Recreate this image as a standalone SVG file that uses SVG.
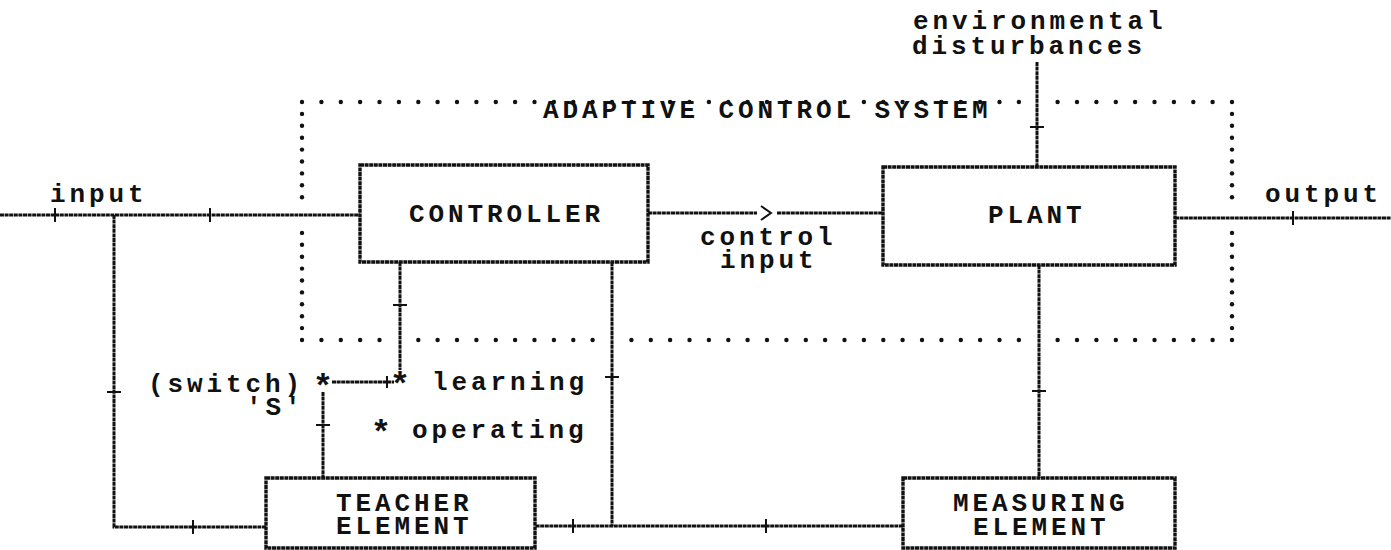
<svg xmlns="http://www.w3.org/2000/svg" width="1391" height="550" viewBox="0 0 1391 550">
  <style>
    text { font-family: "Liberation Mono", "Courier New", monospace; font-size: 26px; font-weight: bold; letter-spacing: 3.9px; fill: #111; }
    .star { letter-spacing: 0; text-anchor: middle; font-size: 34px; }
    .box { fill: #fff; stroke: #111; stroke-width: 3.4; stroke-dasharray: 4 0.6; }
    .wire { fill: none; stroke: #111; stroke-width: 3; stroke-dasharray: 4 0.6; }
    .tick { fill: none; stroke: #111; stroke-width: 2; }
    .dot { fill: #111; }
  </style>
  <defs>
    <circle id="d" r="2.2" class="dot"/>
  </defs>
  <rect width="1391" height="550" fill="#fff"/>

  <!-- system boundary: dotted frame -->
  <g id="adaptive-control-system">
    <g id="frame-top">
      <use href="#d" x="302" y="102"/><use href="#d" x="321.4" y="102"/><use href="#d" x="340.8" y="102"/><use href="#d" x="360.1" y="102"/><use href="#d" x="379.5" y="102"/><use href="#d" x="398.9" y="102"/><use href="#d" x="418.3" y="102"/><use href="#d" x="437.6" y="102"/><use href="#d" x="457" y="102"/><use href="#d" x="476.4" y="102"/><use href="#d" x="495.8" y="102"/><use href="#d" x="515.1" y="102"/><use href="#d" x="534.5" y="102"/><use href="#d" x="553.9" y="102"/><use href="#d" x="573.3" y="102"/><use href="#d" x="592.6" y="102"/><use href="#d" x="612" y="102"/><use href="#d" x="631.4" y="102"/><use href="#d" x="650.8" y="102"/><use href="#d" x="670.1" y="102"/><use href="#d" x="689.5" y="102"/><use href="#d" x="708.9" y="102"/><use href="#d" x="728.3" y="102"/><use href="#d" x="747.6" y="102"/><use href="#d" x="767" y="102"/><use href="#d" x="786.4" y="102"/><use href="#d" x="805.8" y="102"/><use href="#d" x="825.1" y="102"/><use href="#d" x="844.5" y="102"/><use href="#d" x="863.9" y="102"/><use href="#d" x="883.3" y="102"/><use href="#d" x="902.6" y="102"/><use href="#d" x="922" y="102"/><use href="#d" x="941.4" y="102"/><use href="#d" x="960.8" y="102"/><use href="#d" x="980.1" y="102"/><use href="#d" x="999.5" y="102"/><use href="#d" x="1018.9" y="102"/><use href="#d" x="1057.6" y="102"/><use href="#d" x="1077" y="102"/><use href="#d" x="1096.4" y="102"/><use href="#d" x="1115.8" y="102"/><use href="#d" x="1135.1" y="102"/><use href="#d" x="1154.5" y="102"/><use href="#d" x="1173.9" y="102"/><use href="#d" x="1193.3" y="102"/><use href="#d" x="1212.6" y="102"/><use href="#d" x="1232" y="102"/>
    </g>
    <g id="frame-bottom">
      <use href="#d" x="302" y="340"/><use href="#d" x="321.4" y="340"/><use href="#d" x="340.8" y="340"/><use href="#d" x="360.1" y="340"/><use href="#d" x="379.5" y="340"/><use href="#d" x="418.3" y="340"/><use href="#d" x="437.6" y="340"/><use href="#d" x="457" y="340"/><use href="#d" x="476.4" y="340"/><use href="#d" x="495.8" y="340"/><use href="#d" x="515.1" y="340"/><use href="#d" x="534.5" y="340"/><use href="#d" x="553.9" y="340"/><use href="#d" x="573.3" y="340"/><use href="#d" x="592.6" y="340"/><use href="#d" x="631.4" y="340"/><use href="#d" x="650.8" y="340"/><use href="#d" x="670.1" y="340"/><use href="#d" x="689.5" y="340"/><use href="#d" x="708.9" y="340"/><use href="#d" x="728.3" y="340"/><use href="#d" x="747.6" y="340"/><use href="#d" x="767" y="340"/><use href="#d" x="786.4" y="340"/><use href="#d" x="805.8" y="340"/><use href="#d" x="825.1" y="340"/><use href="#d" x="844.5" y="340"/><use href="#d" x="863.9" y="340"/><use href="#d" x="883.3" y="340"/><use href="#d" x="902.6" y="340"/><use href="#d" x="922" y="340"/><use href="#d" x="941.4" y="340"/><use href="#d" x="960.8" y="340"/><use href="#d" x="980.1" y="340"/><use href="#d" x="999.5" y="340"/><use href="#d" x="1018.9" y="340"/><use href="#d" x="1057.6" y="340"/><use href="#d" x="1077" y="340"/><use href="#d" x="1096.4" y="340"/><use href="#d" x="1115.8" y="340"/><use href="#d" x="1135.1" y="340"/><use href="#d" x="1154.5" y="340"/><use href="#d" x="1173.9" y="340"/><use href="#d" x="1193.3" y="340"/><use href="#d" x="1212.6" y="340"/><use href="#d" x="1232" y="340"/>
    </g>
    <g id="frame-left">
      <use href="#d" x="302" y="113.9"/><use href="#d" x="302" y="125.8"/><use href="#d" x="302" y="137.7"/><use href="#d" x="302" y="149.6"/><use href="#d" x="302" y="161.5"/><use href="#d" x="302" y="173.4"/><use href="#d" x="302" y="185.3"/><use href="#d" x="302" y="197.2"/><use href="#d" x="302" y="232.9"/><use href="#d" x="302" y="244.8"/><use href="#d" x="302" y="256.7"/><use href="#d" x="302" y="268.6"/><use href="#d" x="302" y="280.5"/><use href="#d" x="302" y="292.4"/><use href="#d" x="302" y="304.3"/><use href="#d" x="302" y="316.2"/><use href="#d" x="302" y="328.1"/>
    </g>
    <g id="frame-right">
      <use href="#d" x="1232" y="113.9"/><use href="#d" x="1232" y="125.8"/><use href="#d" x="1232" y="137.7"/><use href="#d" x="1232" y="149.6"/><use href="#d" x="1232" y="161.5"/><use href="#d" x="1232" y="173.4"/><use href="#d" x="1232" y="185.3"/><use href="#d" x="1232" y="197.2"/><use href="#d" x="1232" y="232.9"/><use href="#d" x="1232" y="244.8"/><use href="#d" x="1232" y="256.7"/><use href="#d" x="1232" y="268.6"/><use href="#d" x="1232" y="280.5"/><use href="#d" x="1232" y="292.4"/><use href="#d" x="1232" y="304.3"/><use href="#d" x="1232" y="316.2"/><use href="#d" x="1232" y="328.1"/>
    </g>
    <text x="543" y="118">ADAPTIVE CONTROL SYSTEM</text>
  </g>

  <!-- connectors -->
  <g id="connectors">
    <!-- input into controller, branch down to teacher -->
    <path class="wire" d="M0 215 H360"/>
    <path class="wire" d="M114 215 V527 H266"/>
    <!-- controller to plant -->
    <path class="wire" d="M648 213 H757"/>
    <path class="wire" d="M777 213 H883"/>
    <polyline class="tick" stroke-width="3" points="761,206 771,213 761,220"/>
    <!-- environmental disturbances into plant -->
    <path class="wire" d="M1037 62 V167"/>
    <!-- plant output -->
    <path class="wire" d="M1175 218 H1391"/>
    <!-- plant to measuring element -->
    <path class="wire" d="M1039 265 V478"/>
    <!-- measuring element back to teacher, with controller branch -->
    <path class="wire" d="M903 526 H535"/>
    <path class="wire" d="M612 262 V526"/>
    <!-- switch S -->
    <path class="wire" d="M400 262 V370"/>
    <path class="wire" d="M332 382 H394"/>
    <path class="wire" d="M323 392 V478"/>

    <!-- direction ticks -->
    <path class="tick" d="M55 208 V222 M210 208 V222 M193 520 V534 M573 519 V533 M766 519 V533 M1293 211 V225"/>
    <path class="tick" d="M107 392 H121 M1030 127 H1044 M1032 391 H1046 M605 377 H619 M393 305 H407 M316 425 H330 M387 376 V388"/>
  </g>

  <g id="controller">
    <rect class="box" x="360" y="165" width="288" height="97"/>
    <text x="409" y="222">CONTROLLER</text>
  </g>

  <g id="plant">
    <rect class="box" x="883" y="167" width="292" height="98"/>
    <text x="988" y="223">PLANT</text>
  </g>

  <g id="teacher-element">
    <rect class="box" x="266" y="478" width="269" height="70"/>
    <text><tspan x="336" y="511">TEACHER</tspan><tspan x="336" y="534">ELEMENT</tspan></text>
  </g>

  <g id="measuring-element">
    <rect class="box" x="903" y="478" width="272" height="70"/>
    <text><tspan x="953" y="511">MEASURING</tspan><tspan x="973" y="535">ELEMENT</tspan></text>
  </g>

  <g id="labels">
    <text><tspan x="913" y="29">environmental</tspan><tspan x="912" y="54">disturbances</tspan></text>
    <text x="50" y="202">input</text>
    <text x="1265" y="202">output</text>
    <text><tspan x="700" y="245">control</tspan><tspan x="720" y="268">input</tspan></text>
    <text><tspan x="148" y="392">(switch)</tspan><tspan x="246" y="415">'S'</tspan></text>
    <text class="star" x="323" y="397">*</text>
    <text class="star" x="400" y="395">*</text>
    <text x="432" y="390">learning</text>
    <text class="star" x="381" y="443">*</text>
    <text x="412" y="438">operating</text>
  </g>
</svg>
